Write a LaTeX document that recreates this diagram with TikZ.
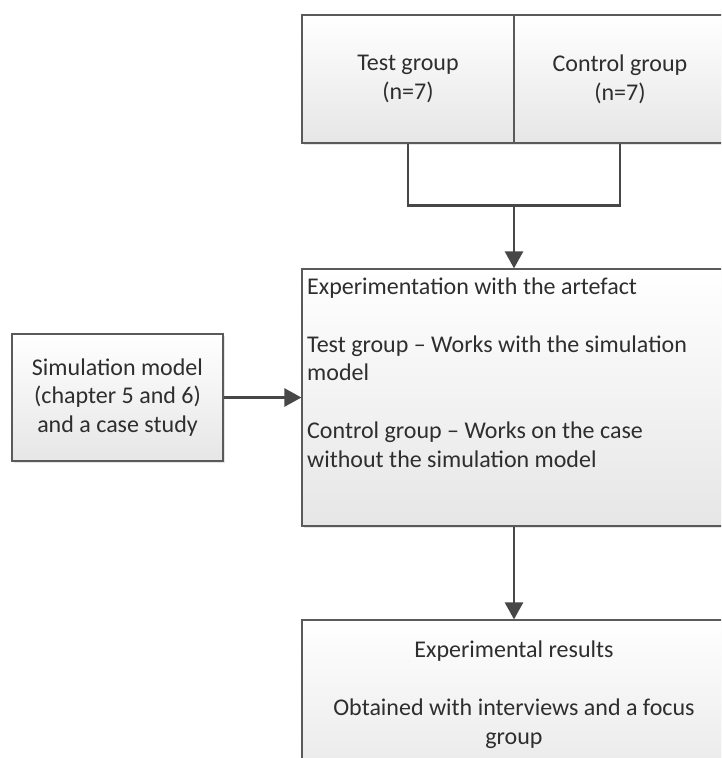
\documentclass[tikz,border=0pt]{standalone}
\usepackage{fontspec}
\setmainfont{Carlito}
\usetikzlibrary{arrows.meta,shadows,calc}
\definecolor{boxline}{HTML}{5A5A5A}
\definecolor{linkline}{HTML}{474747}
\definecolor{txt}{HTML}{2E2E2E}
\definecolor{shadeend}{HTML}{E6E6E6}
\tikzset{
  box/.style={draw=boxline, line width=1.2pt, top color=white, bottom color=shadeend,
    drop shadow={shadow xshift=1.5pt, shadow yshift=-2pt, opacity=0.35, fill=gray!60},
    inner sep=0pt},
  boxtext/.style={text=txt, font=\fontsize{24}{28.7}\selectfont, inner sep=0pt},
  link/.style={draw=linkline, line width=2.6pt},
  arrowlink/.style={link, -{Triangle[width=18pt,length=17pt]}},
}
\begin{document}
\begin{tikzpicture}[x=1pt,y=-1pt]
  \useasboundingbox (0,0) rectangle (721,758);
  \fill[white] (0,0) rectangle (721,758);
  \clip (0,0) rectangle (721,758);

  % the two groups
  \node[box, boxtext, align=center, minimum width=212pt, minimum height=128pt]
    (test) at (408,79) {Test group\\(n=7)};
  \node[box, boxtext, align=center, minimum width=212pt, minimum height=128pt]
    (ctrl) at (620,79) {Control group\\(n=7)};

  % input on the left
  \node[box, boxtext, align=center, minimum width=211pt, minimum height=127pt]
    (sim) at (117.5,397.5) {Simulation model\\(chapter 5 and 6)\\and a case study};

  % experimentation (text placed by the baseline of its last line)
  \node[box, minimum width=424pt, minimum height=257pt] (exp) at (514,397.5) {};
  \node[boxtext, anchor=base west, align=left] (exptext) at (307,467)
    {Experimentation with the artefact\\[28.7pt]
     Test group -- Works with the simulation\\
     model\\[28.7pt]
     Control group -- Works on the case\\
     without the simulation model};

  % results
  \node[box, minimum width=424pt, minimum height=180pt] (res) at (514,710) {};
  \node[boxtext, anchor=base, align=center] (restext) at (514,744)
    {Experimental results\\[28.7pt]
     Obtained with interviews and a focus\\
     group};

  % connectors
  \coordinate (join) at ($(exp.north)+(0,-63)$);
  \draw[link] (test.south) |- (join) -| (ctrl.south);
  \draw[arrowlink] (join) -- (exp.north);
  \draw[arrowlink] (sim.east) -- (exp.west);
  \draw[arrowlink] (exp.south) -- (res.north);
\end{tikzpicture}
\end{document}
